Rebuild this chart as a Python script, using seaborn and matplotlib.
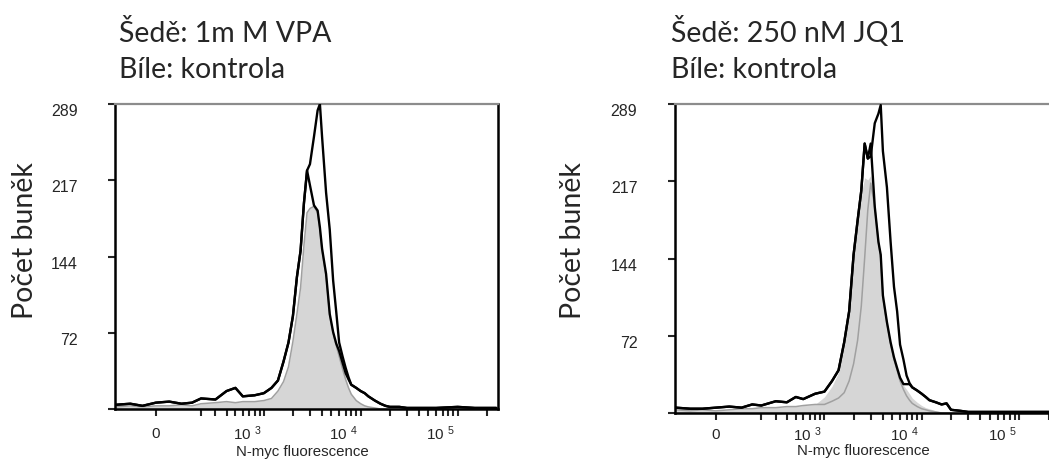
import matplotlib
matplotlib.use("Agg")
import matplotlib.pyplot as plt
import matplotlib.transforms as mtransforms
import pandas as pd
import seaborn as sns

# fluorescence channel values where the histogram heights were read
fluorescence = [-170, -100, -50, 0, 50, 100, 150, 200, 300, 400, 500, 600, 800,
                1000, 1200, 1400, 1600, 1800, 2000, 2200, 2400, 2600, 2800, 3000,
                3300, 3600, 3800, 4000, 4400, 4800, 5200, 5600, 6000, 6500, 7000,
                7500, 8000, 9000, 10000, 11000, 12000, 14000, 16000, 18000, 20000,
                25000, 30000, 40000, 60000, 100000, 150000, 250000]

# left panel: VPA
vpa_tall = [4, 5, 3, 6, 7, 5, 6, 10, 9, 17, 20, 12, 13,
            15, 20, 27, 45, 63, 88, 125, 150, 195, 226, 232,
            258, 283, 289, 258, 205, 170, 122, 92, 63, 50, 39,
            30, 23, 20, 17, 15, 12, 8, 5, 3, 2,
            2, 1, 1, 1, 2, 1, 1]
vpa_low = [4, 5, 3, 6, 7, 5, 6, 10, 9, 17, 20, 12, 13,
           15, 20, 27, 45, 63, 88, 125, 150, 195, 226, 212,
           193, 188, 172, 152, 128, 90, 73, 62, 55, 44, 34,
           28, 23, 20, 17, 15, 12, 8, 5, 3, 2,
           2, 1, 1, 1, 2, 1, 1]
vpa_gray_line = [2, 3, 2, 3, 3, 4, 3, 5, 6, 7, 6, 7, 7,
                 8, 10, 17, 26, 40, 64, 90, 115, 155, 186, 190,
                 192, 186, 170, 150, 126, 89, 72, 60, 50, 38, 28,
                 20, 14, 8, 5, 3, 2, 1, 0, 0, 0,
                 0, 0, 0, 0, 0, 0, 0]
vpa_shaded = vpa_gray_line

# right panel: JQ1
jq1_tall = [5, 4, 4, 5, 6, 5, 8, 7, 11, 10, 15, 13, 18,
            20, 30, 40, 66, 95, 148, 180, 208, 252, 238, 240,
            271, 280, 288, 245, 211, 160, 118, 95, 64, 50, 35,
            28, 24, 21, 18, 15, 12, 10, 8, 9, 3,
            2, 1, 1, 1, 1, 1, 1]
jq1_low = [5, 4, 4, 5, 6, 5, 8, 7, 11, 10, 15, 13, 18,
           20, 30, 40, 66, 95, 148, 180, 208, 252, 238, 252,
           193, 160, 148, 110, 85, 66, 52, 42, 33, 27, 27,
           27, 24, 21, 18, 15, 12, 10, 8, 9, 3,
           2, 1, 1, 1, 1, 1, 1]
jq1_gray_line = [3, 2, 3, 2, 3, 4, 4, 5, 5, 6, 6, 7, 8,
                 8, 11, 14, 19, 30, 46, 68, 100, 145, 190, 215,
                 193, 160, 145, 108, 84, 65, 50, 40, 30, 22, 16,
                 12, 9, 6, 4, 3, 2, 1, 0, 0, 0,
                 0, 0, 0, 0, 0, 0, 0]
jq1_shaded = [3, 2, 3, 2, 3, 4, 4, 5, 5, 6, 6, 7, 8,
              15, 25, 38, 62, 92, 145, 178, 205, 220, 218, 222,
              193, 160, 148, 110, 85, 66, 52, 42, 33, 26, 22,
              18, 14, 10, 7, 5, 4, 2, 1, 0, 0,
              0, 0, 0, 0, 0, 0, 0]

y_ticks = [0, 72, 144, 217, 289]
y_labels = ['', '72', '144', '217', '289']
major_x = [0, 1e3, 1e4, 1e5]
major_labels = ['0', '10 $^{3}$', '10 $^{4}$', '10 $^{5}$']
minor_x = [200, 300, 400, 500, 600, 700, 800, 900,
           2000, 3000, 4000, 5000, 6000, 7000, 8000, 9000,
           20000, 30000, 40000, 50000, 60000, 70000, 80000, 90000, 200000]

sns.set_style("ticks")
plt.rcParams['font.family'] = ['Liberation Sans', 'DejaVu Sans']
plt.rcParams['mathtext.fontset'] = 'custom'
plt.rcParams['mathtext.rm'] = 'Liberation Sans'
plt.rcParams['mathtext.it'] = 'Liberation Sans:italic'

W, H = 1049, 461
fig = plt.figure(figsize=(W / 100, H / 100), dpi=100)


def draw_panel(ax, tall, low, gray_line, shaded, tick_drop, label_y):
    df = pd.DataFrame({
        'fluorescence': fluorescence * 2,
        'count': tall + low,
        'curve': ['tall'] * len(fluorescence) + ['low'] * len(fluorescence),
    })
    ax.fill_between(fluorescence, shaded, color='#d6d6d6', linewidth=0, zorder=1)
    sns.lineplot(x=fluorescence, y=gray_line, color='#a0a0a0', linewidth=1.1,
                 ax=ax, zorder=2)
    sns.lineplot(data=df, x='fluorescence', y='count', units='curve',
                 estimator=None, sort=False, color='black', linewidth=1.7,
                 ax=ax, zorder=3, legend=False)

    ax.set_xscale('asinh', linear_width=155)
    ax.set_xlim(-175, 262144)
    ax.set_ylim(0, 289)
    ax.set_yticks(y_ticks, labels=y_labels)
    ax.set_xticks(major_x, labels=[''] * len(major_x))
    ax.set_xticks(minor_x, minor=True)
    ax.tick_params(axis='y', length=5, width=1.5, pad=22, labelsize=11.5)
    ax.tick_params(axis='x', which='both', length=5, width=1.5)
    ax.set_xlabel('N-myc fluorescence', fontsize=10.8)
    ax.xaxis.set_label_coords(0.49, label_y)
    ax.set_ylabel('')
    for lab in ax.get_yticklabels():
        lab.set_va('top')

    # FlowJo-style tick labels sit a little left of the decade ticks
    base = ax.get_xaxis_transform()
    for val, lab in zip(major_x, major_labels):
        shift = 0 if val == 0 else -17
        tr = mtransforms.offset_copy(base, fig=fig, x=shift, y=-tick_drop,
                                     units='dots')
        ax.text(val, 0, lab, transform=tr, ha='center', va='center',
                fontsize=11)

    for side in ['left', 'bottom', 'right']:
        ax.spines[side].set_linewidth(1.8)
        ax.spines[side].set_color('black')
    ax.spines['top'].set_linewidth(1.6)
    ax.spines['top'].set_color('#8c8c8c')


ax1 = fig.add_axes([115 / W, 52 / H, 383.3 / W, 305 / H])
draw_panel(ax1, vpa_tall, vpa_low, vpa_gray_line, vpa_shaded, 25, -0.118)
ax2 = fig.add_axes([674.8 / W, 48 / H, 385.2 / W, 309 / H])
draw_panel(ax2, jq1_tall, jq1_low, jq1_gray_line, jq1_shaded, 22, -0.1)

title_font = dict(family=['Lato', 'DejaVu Sans'], fontsize=20.5, ha='left', va='baseline')
fig.text(119 / W, 1 - 42 / H, 'Šedě: 1m M VPA', **title_font)
fig.text(119 / W, 1 - 78 / H, 'Bíle: kontrola', **title_font)
fig.text(671 / W, 1 - 42 / H, 'Šedě: 250 nM JQ1', **title_font)
fig.text(671 / W, 1 - 78 / H, 'Bíle: kontrola', **title_font)

ylabel_font = dict(family=['Lato', 'DejaVu Sans'], fontsize=20.5, rotation=90,
                   ha='center', va='center')
fig.text(25 / W, 1 - 241 / H, 'Počet buněk', **ylabel_font)
fig.text(573 / W, 1 - 241 / H, 'Počet buněk', **ylabel_font)

fig.savefig('out.png', dpi=100)
